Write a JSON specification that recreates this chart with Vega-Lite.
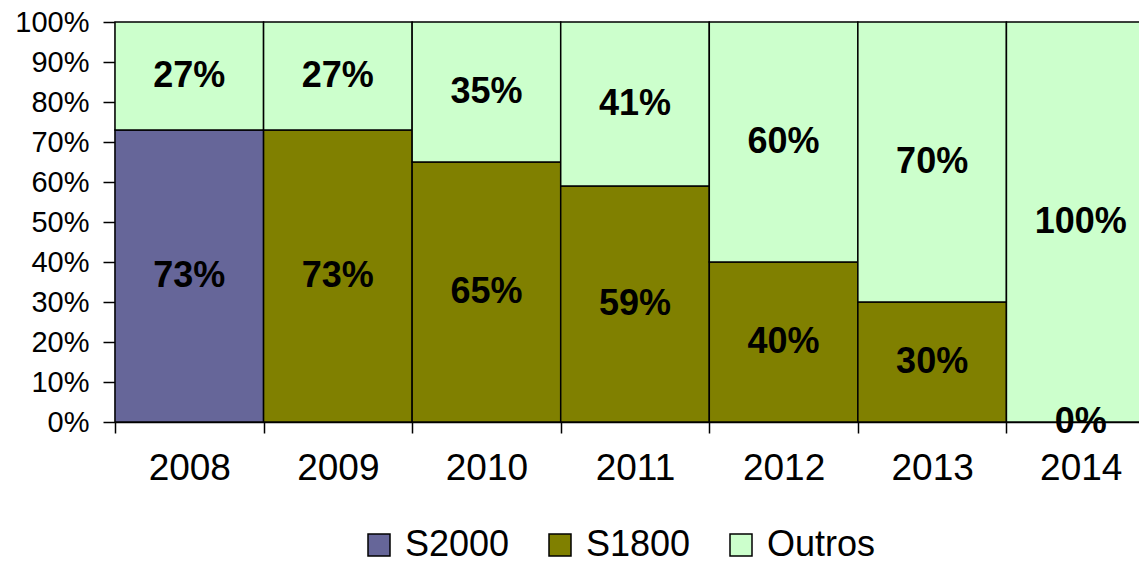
{
  "$schema": "https://vega.github.io/schema/vega-lite/v6.json",
  "width": 1040,
  "height": 400,
  "autosize": "none",
  "padding": {"left": 115, "top": 22, "right": 0, "bottom": 142},
  "background": "white",
  "config": {"view": {"stroke": null}, "font": "Liberation Sans"},
  "data": {"values": [
    {"year": "2008", "serie": "S2000", "value": 73},
    {"year": "2008", "serie": "Outros", "value": 27},
    {"year": "2009", "serie": "S1800", "value": 73},
    {"year": "2009", "serie": "Outros", "value": 27},
    {"year": "2010", "serie": "S1800", "value": 65},
    {"year": "2010", "serie": "Outros", "value": 35},
    {"year": "2011", "serie": "S1800", "value": 59},
    {"year": "2011", "serie": "Outros", "value": 41},
    {"year": "2012", "serie": "S1800", "value": 40},
    {"year": "2012", "serie": "Outros", "value": 60},
    {"year": "2013", "serie": "S1800", "value": 30},
    {"year": "2013", "serie": "Outros", "value": 70},
    {"year": "2014", "serie": "S1800", "value": 0},
    {"year": "2014", "serie": "Outros", "value": 100}
  ]},
  "transform": [
    {"calculate": "indexof(['S2000','S1800','Outros'], datum.serie)", "as": "ord"},
    {"stack": "value", "groupby": ["year"], "sort": [{"field": "ord", "order": "ascending"}], "as": ["v0", "v1"]},
    {"calculate": "(datum.v0 + datum.v1) / 2", "as": "mid"},
    {"calculate": "datum.value + '%'", "as": "lbl"}
  ],
  "encoding": {
    "x": {
      "field": "year", "type": "nominal", "title": null,
      "scale": {"paddingInner": 0, "paddingOuter": 0},
      "axis": {
        "labelAngle": 0, "labelFontSize": 37, "labelColor": "black",
        "tickBand": "extent", "tickSize": 11, "tickColor": "black", "tickWidth": 1.5,
        "domainColor": "black", "domainWidth": 1.5, "labelPadding": 17
      }
    },
    "y": {
      "field": "v0", "type": "quantitative", "title": null,
      "scale": {"domain": [0, 100], "nice": false},
      "axis": {
        "values": [0, 10, 20, 30, 40, 50, 60, 70, 80, 90, 100],
        "labelExpr": "datum.value + '%'", "labelOverlap": false,
        "labelFontSize": 29, "labelColor": "black", "grid": false,
        "tickSize": 12, "tickColor": "black", "tickWidth": 1.5,
        "domainColor": "black", "domainWidth": 1.5, "labelPadding": 14
      }
    }
  },
  "layer": [
    {
      "mark": {"type": "bar", "stroke": "black", "strokeWidth": 1.5},
      "encoding": {
        "y2": {"field": "v1"},
        "color": {
          "field": "serie", "type": "nominal", "title": null,
          "scale": {"domain": ["S2000", "S1800", "Outros"], "range": ["#666699", "#808000", "#CCFFCC"]},
          "legend": {
            "orient": "none", "direction": "horizontal", "legendX": 246, "legendY": 505,
            "symbolType": "square", "symbolSize": 484, "symbolStrokeColor": "black",
            "symbolStrokeWidth": 1.5, "symbolOpacity": 1,
            "labelFontSize": 36, "labelColor": "black", "labelOffset": 8, "columnPadding": 32,
            "labelLimit": 300
          }
        }
      }
    },
    {
      "mark": {"type": "text", "fontWeight": "bold", "fontSize": 36, "color": "black", "baseline": "middle"},
      "encoding": {
        "y": {"field": "mid", "type": "quantitative"},
        "text": {"field": "lbl", "type": "nominal"},
        "detail": {"field": "serie"}
      }
    }
  ]
}
